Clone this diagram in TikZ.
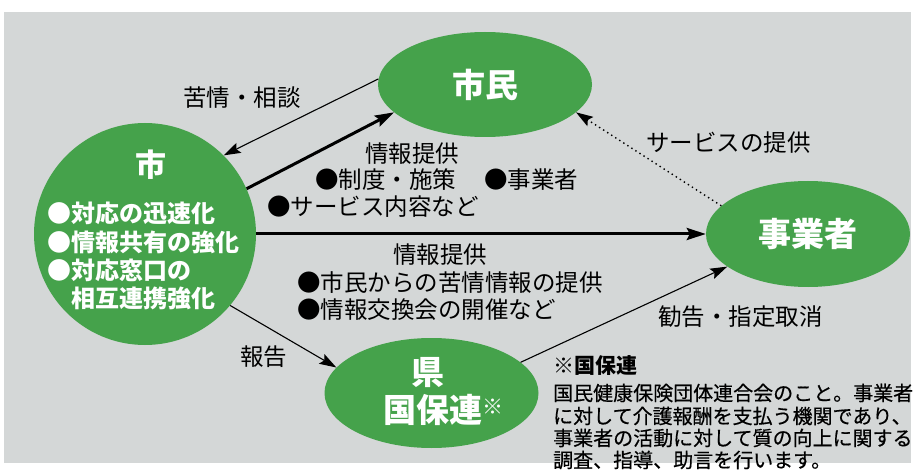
\documentclass[tikz,border=0pt]{standalone}
\usepackage{fontspec}
\setmainfont{Noto Sans CJK JP}
\newfontfamily\jpmed{Noto Sans CJK JP}[FakeBold=0.5]
\usetikzlibrary{shapes.geometric,arrows.meta}
\definecolor{bg}{HTML}{D4D7D7}
\definecolor{grn}{HTML}{45A24B}
\begin{document}
\begin{tikzpicture}[x=1pt,y=-1pt,
  blob/.style={fill=grn, draw=none, inner sep=0pt},
  lbl/.style={anchor=west, inner sep=0pt, text=black, font=\fontsize{23.5}{26}\selectfont},
  wlbl/.style={anchor=west, inner sep=0pt, text=white, font=\fontsize{24}{26}\selectfont\bfseries},
  ttl/.style={inner sep=0pt, text=white, font=\fontsize{33}{35}\selectfont\bfseries},
  note/.style={anchor=west, inner sep=0pt, text=black, font=\fontsize{20}{22}\selectfont\jpmed},
  arr/.style={-{Stealth[length=17pt,width=11pt,inset=3pt]}, line width=1.1pt},
  bigarr/.style={-{Stealth[length=19pt,width=12pt,inset=3pt]}, line width=3pt},
  dotarr/.style={-{Stealth[length=17pt,width=11pt,inset=3pt]}, line width=1.4pt, dash pattern=on 1.4pt off 3.4pt}]
\useasboundingbox (0,0) rectangle (916,473);
\fill[white] (0,0) rectangle (916,473);
\fill[bg] (4,12) rectangle (911,463);

% nodes
\node[blob, circle, minimum size=222pt] (shi) at (145,234) {};
\node[blob, ellipse, minimum width=214pt, minimum height=105pt, ttl] (shimin) at (485,84.5) {市民};
\node[blob, ellipse, minimum width=204pt, minimum height=106pt, ttl] (jigyo) at (808,234) {事業者};
\node[blob, ellipse, minimum width=214pt, minimum height=110pt] (ken) at (431.5,393) {};

% texts inside
\node[ttl, font=\fontsize{31}{33}\selectfont\bfseries] (shititle) at (151,165) {市};
\node[wlbl] (s1) at (47,213) {●対応の迅速化};
\node[wlbl] (s2) at (47,242) {●情報共有の強化};
\node[wlbl] (s3) at (47,270) {●対応窓口の};
\node[wlbl] (s4) at (71,298) {相互連携強化};
\node[ttl] (kentxt) at (428,373) {県};
\node[ttl, anchor=west] (kokuho) at (383,410) {国保連\rlap{\raisebox{8pt}{\fontsize{21}{21}\selectfont\mdseries ※}}};

% connectors
\draw[arr] (shimin.177.6) -- (shi.45.4);
\draw[bigarr] (shi.24.7) -- (shimin.197.2);
\draw[bigarr] (shi.east) -- (jigyo.west);
\draw[dotarr] (jigyo.162.1) -- (shimin.-17.9);
\draw[arr] (shi.-40.7) -- (ken.165.5);
\draw[arr] (ken.19.7) -- (jigyo.202.7);

% labels
\node[lbl] (kujo) at (183,98) {苦情・相談};
\node[lbl] (joho1) at (365,154) {情報提供};
\node[lbl] (seido) at (315,180) {●制度・施策};
\node[lbl] (jigyosha) at (484,180) {●事業者};
\node[lbl] (service) at (267,207) {●サービス内容など};
\node[lbl] (teikyo) at (646,143) {サービスの提供};
\node[lbl] (joho2) at (393,255) {情報提供};
\node[lbl] (kujojoho) at (297,283) {●市民からの苦情情報の提供};
\node[lbl] (kokan) at (297,310) {●情報交換会の開催など};
\node[lbl] (hokoku) at (240,357) {報告};
\node[lbl] (kankoku) at (658,317) {勧告・指定取消};
\node[note, font=\fontsize{21}{23}\selectfont\bfseries] (nhead) at (553,366) {※国保連};
\node[note] (n1) at (553,393) {国民健康保険団体連合会のこと。事業者};
\node[note] (n2) at (553,416) {に対して介護報酬を支払う機関であり、};
\node[note] (n3) at (553,438) {事業者の活動に対して質の向上に関する};
\node[note] (n4) at (553,460) {調査、指導、助言を行います。};
\end{tikzpicture}
\end{document}
